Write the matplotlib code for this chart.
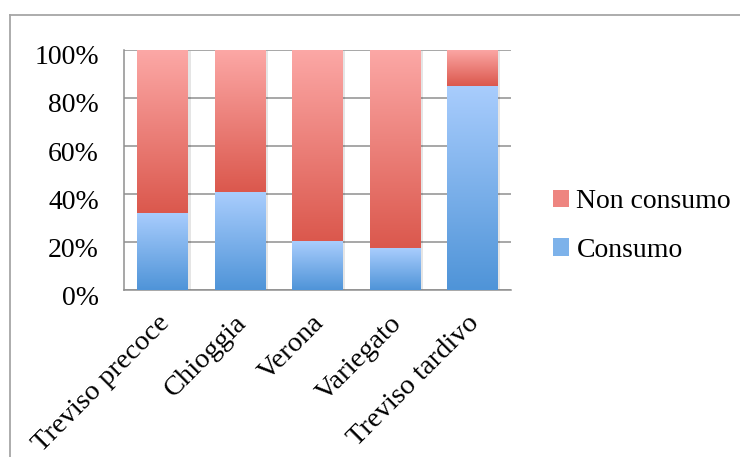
import numpy as np
import matplotlib
matplotlib.use("Agg")
import matplotlib.pyplot as plt
from matplotlib.colors import LinearSegmentedColormap
from matplotlib.patches import Patch
from matplotlib.lines import Line2D
from matplotlib.transforms import ScaledTranslation

# Data: share of respondents (%) per radicchio variety
categories = ["Treviso precoce", "Chioggia", "Verona", "Variegato", "Treviso tardivo"]
consumo = [32.1, 40.8, 20.3, 17.4, 85.0]
non_consumo = [100 - v for v in consumo]
yticks = [0, 20, 40, 60, 80, 100]
ytick_labels = ["0%", "20%", "40%", "60%", "80%", "100%"]

BLUE_TOP, BLUE_BOTTOM = "#a9cdfd", "#4f94d8"
RED_TOP, RED_BOTTOM = "#fca8a6", "#db584d"
GRID = "#8f8f8f"

plt.rcParams["font.family"] = ["Liberation Serif", "DejaVu Serif"]

fig = plt.figure(figsize=(7.40, 4.57), dpi=100)
ax = fig.add_axes([0.1676, 0.3654, 0.5229, 0.5252])

x = np.arange(len(categories))
width = 0.655

b1 = ax.bar(x, consumo, width, color="none", edgecolor="none", zorder=3, label="Consumo")
b2 = ax.bar(x, non_consumo, width, bottom=consumo, color="none", edgecolor="none",
            zorder=3, label="Non consumo")


def gradient_fill(patch, top, bottom):
    cmap = LinearSegmentedColormap.from_list("g", [top, bottom])
    grad = np.linspace(0, 1, 256)[:, None]
    x0, y0 = patch.get_x(), patch.get_y()
    w, h = patch.get_width(), patch.get_height()
    im = ax.imshow(grad, extent=[x0, x0 + w, y0, y0 + h], origin="upper",
                   aspect="auto", cmap=cmap, zorder=3, interpolation="bilinear")
    im.set_clip_path(patch)
    # soft drop shadow
    sh = plt.Rectangle((x0, y0), w, h, facecolor="#000000", alpha=0.10,
                       edgecolor="none", zorder=2,
                       transform=ax.transData + ScaledTranslation(2.5 / 100, -1.5 / 100,
                                                                  fig.dpi_scale_trans))
    ax.add_patch(sh)


for p in b1.patches:
    gradient_fill(p, BLUE_TOP, BLUE_BOTTOM)
for p in b2.patches:
    gradient_fill(p, RED_TOP, RED_BOTTOM)

ax.set_xlim(-0.5, len(categories) - 0.5)
ax.set_ylim(0, 100)

ax.set_yticks(yticks, ytick_labels)
ax.yaxis.grid(True, color=GRID, linewidth=1.1, zorder=1)
ax.set_axisbelow(True)
ax.tick_params(axis="y", length=0, pad=18, labelsize=20)
for lbl in ax.get_yticklabels():
    lbl.set_transform(lbl.get_transform() + ScaledTranslation(0, -5 / 100, fig.dpi_scale_trans))

ax.set_xticks(x, categories, rotation=45, ha="right", va="top", rotation_mode="anchor")
ax.tick_params(axis="x", length=0, pad=15, labelsize=20.5)
for lbl in ax.get_xticklabels():
    lbl.set_transform(lbl.get_transform() + ScaledTranslation(-6 / 100, 0, fig.dpi_scale_trans))

for s in ("top", "right"):
    ax.spines[s].set_visible(False)
for s in ("left", "bottom"):
    ax.spines[s].set_color(GRID)
    ax.spines[s].set_linewidth(1.1)

handles = [Patch(facecolor="#ee8580", edgecolor="none"),
           Patch(facecolor="#7db2ea", edgecolor="none")]
fig.legend(handles, ["Non consumo", "Consumo"], loc="center left",
           bbox_to_anchor=(0.747, 0.505), frameon=False, fontsize=20,
           handlelength=0.6, handleheight=0.6, handletextpad=0.25,
           labelspacing=0.85, borderpad=0, borderaxespad=0)

# outer chart frame
fig.add_artist(Line2D([9.5 / 740, 9.5 / 740], [0, 1 - 15 / 457], transform=fig.transFigure,
                      color="#a6a6a6", linewidth=1.3))
fig.add_artist(Line2D([9.5 / 740, 1], [1 - 15 / 457, 1 - 15 / 457], transform=fig.transFigure,
                      color="#a6a6a6", linewidth=1.3))

fig.savefig("out.png", dpi=100)
